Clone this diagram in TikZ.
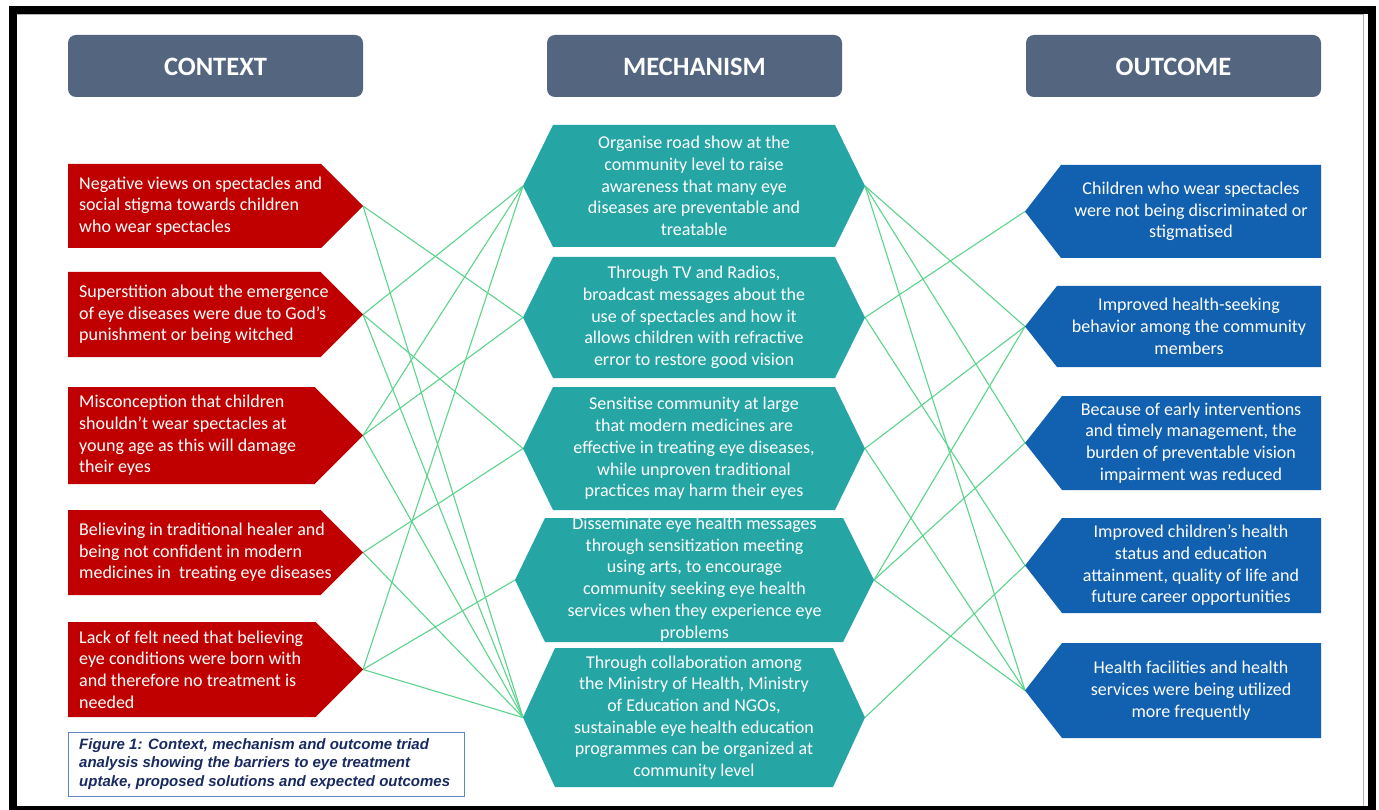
\documentclass[tikz,border=0pt]{standalone}
\usepackage{fontspec}
\setmainfont{Carlito}
\newfontfamily\capfont{Liberation Sans}

\definecolor{hdrgray}{RGB}{84,101,128}
\definecolor{ctxred}{RGB}{192,0,0}
\definecolor{mechteal}{RGB}{37,165,164}
\definecolor{outblue}{RGB}{18,96,176}
\definecolor{linkgreen}{RGB}{92,212,140}
\definecolor{capnavy}{RGB}{24,42,96}
\definecolor{capframe}{RGB}{96,134,200}

\tikzset{
  hdrbox/.style={fill=hdrgray, rounded corners=8pt},
  hdrtxt/.style={text=white, inner sep=0pt, font=\fontsize{26.5}{30}\selectfont\bfseries},
  boxtxt/.style={text=white, inner sep=0pt, font=\fontsize{18}{21.7}\selectfont},
  ctxtxt/.style={boxtxt, align=left, anchor=west},
  ctrtxt/.style={boxtxt, align=center},
  linkline/.style={draw=linkgreen, line width=1.1pt},
}

\begin{document}
\begin{tikzpicture}[x=1pt,y=-1pt]
\useasboundingbox (0,0) rectangle (1379,810);
\fill[white] (0,0) rectangle (1379,810);

% outer frame
\draw[black!30, line width=1pt] (17,15) -- (1363.5,15) -- (1363.5,806);
\draw[black, line width=8.5pt] (13,10) rectangle (1372,810);

% column headers
\fill[hdrbox] (68,35) rectangle (363,97);
\fill[hdrbox] (547,35) rectangle (842,97);
\fill[hdrbox] (1026,35) rectangle (1321,97);
\node[hdrtxt] (hctx) at (215.5,67) {CONTEXT};
\node[hdrtxt] (hmech) at (694.5,67) {MECHANISM};
\node[hdrtxt] (hout) at (1173.5,67) {OUTCOME};

% connection points
\coordinate (r1) at (363,206);
\coordinate (r2) at (363,314.5);
\coordinate (r3) at (363,435.5);
\coordinate (r4) at (363,552.5);
\coordinate (r5) at (363,669.5);
\coordinate (m1w) at (523,186);
\coordinate (m2w) at (523,317.5);
\coordinate (m3w) at (523,448.5);
\coordinate (m4w) at (515,580);
\coordinate (m5w) at (523,717.5);
\coordinate (m1e) at (865,186);
\coordinate (m2e) at (865,317.5);
\coordinate (m3e) at (865,448.5);
\coordinate (m4e) at (874,580);
\coordinate (m5e) at (865,717.5);
\coordinate (o1) at (1025,211.5);
\coordinate (o2) at (1025,326.5);
\coordinate (o3) at (1025,443);
\coordinate (o4) at (1025,565.5);
\coordinate (o5) at (1025,690.5);

% links context -> mechanism
\draw[linkline] (r1) -- (m2w);
\draw[linkline] (r1) -- (m5w);
\draw[linkline] (r2) -- (m1w);
\draw[linkline] (r2) -- (m3w);
\draw[linkline] (r2) -- (m5w);
\draw[linkline] (r3) -- (m1w);
\draw[linkline] (r3) -- (m2w);
\draw[linkline] (r3) -- (m5w);
\draw[linkline] (r4) -- (m3w);
\draw[linkline] (r4) -- (m5w);
\draw[linkline] (r5) -- (m1w);
\draw[linkline] (r5) -- (m4w);
\draw[linkline] (r5) -- (m5w);

% links mechanism -> outcome
\draw[linkline] (m1e) -- (o2);
\draw[linkline] (m1e) -- (o3);
\draw[linkline] (m1e) -- (o5);
\draw[linkline] (m2e) -- (o1);
\draw[linkline] (m2e) -- (o4);
\draw[linkline] (m3e) -- (o2);
\draw[linkline] (m3e) -- (o5);
\draw[linkline] (m4e) -- (o2);
\draw[linkline] (m4e) -- (o3);
\draw[linkline] (m4e) -- (o5);
\draw[linkline] (m5e) -- (o4);

% context arrows
\fill[ctxred] (68,164) -- (321,164) -- (r1) -- (321,248) -- (68,248) -- cycle;
\fill[ctxred] (68,272) -- (320.5,272) -- (r2) -- (320.5,357) -- (68,357) -- cycle;
\fill[ctxred] (68,387) -- (314.5,387) -- (r3) -- (314.5,484) -- (68,484) -- cycle;
\fill[ctxred] (68,510) -- (320.5,510) -- (r4) -- (320.5,595) -- (68,595) -- cycle;
\fill[ctxred] (68,622) -- (315.5,622) -- (r5) -- (315.5,717) -- (68,717) -- cycle;

\node[ctxtxt] (c1) at (79,206) {Negative views on spectacles and\\social stigma towards children\\who wear spectacles};
\node[ctxtxt] (c2) at (79,314.5) {Superstition about the emergence\\of eye diseases were due to God’s\\punishment or being witched};
\node[ctxtxt] (c3) at (79,435.5) {Misconception that children\\shouldn’t wear spectacles at\\young age as this will damage\\their eyes};
\node[ctxtxt] (c4) at (79,552.5) {Believing in traditional healer and\\being not confident in modern\\medicines in\ \ treating eye diseases};
\node[ctxtxt] (c5) at (79,669.5) {Lack of felt need that believing\\eye conditions were born with\\and therefore no treatment is\\needed};

% mechanism hexagons
\fill[mechteal] (m1w) -- (553,125) -- (835,125) -- (m1e) -- (835,247) -- (553,247) -- cycle;
\fill[mechteal] (m2w) -- (553,257) -- (835,257) -- (m2e) -- (835,378) -- (553,378) -- cycle;
\fill[mechteal] (m3w) -- (553,387) -- (835,387) -- (m3e) -- (835,510) -- (553,510) -- cycle;
\fill[mechteal] (m4w) -- (545,518) -- (843,518) -- (m4e) -- (843,642) -- (545,642) -- cycle;
\fill[mechteal] (m5w) -- (555,648) -- (833,648) -- (m5e) -- (833,787) -- (555,787) -- cycle;

\node[ctrtxt] (mt1) at (694,186) {Organise road show at the\\community level to raise\\awareness that many eye\\diseases are preventable and\\treatable};
\node[ctrtxt] (mt2) at (694,317.5) {Through TV and Radios,\\broadcast messages about the\\use of spectacles and how it\\allows children with refractive\\error to restore good vision};
\node[ctrtxt] (mt3) at (694,448.5) {Sensitise community at large\\that modern medicines are\\effective in treating eye diseases,\\while unproven traditional\\practices may harm their eyes};
\node[ctrtxt] (mt4) at (694.5,579) {Disseminate eye health messages\\through sensitization meeting\\using arts, to encourage\\community seeking eye health\\services when they experience eye\\problems};
\node[ctrtxt] (mt5) at (694,717.5) {Through collaboration among\\the Ministry of Health, Ministry\\of Education and NGOs,\\sustainable eye health education\\programmes can be organized at\\community level};

% outcome arrows
\fill[outblue] (o1) -- (1061,165) -- (1321,165) -- (1321,258) -- (1061,258) -- cycle;
\fill[outblue] (o2) -- (1057,286) -- (1321,286) -- (1321,367) -- (1057,367) -- cycle;
\fill[outblue] (o3) -- (1062,396) -- (1321,396) -- (1321,490) -- (1062,490) -- cycle;
\fill[outblue] (o4) -- (1062,518) -- (1321,518) -- (1321,613) -- (1062,613) -- cycle;
\fill[outblue] (o5) -- (1062,643) -- (1321,643) -- (1321,738) -- (1062,738) -- cycle;

\node[ctrtxt] (ot1) at (1191,211.5) {Children who wear spectacles\\were not being discriminated or\\stigmatised};
\node[ctrtxt] (ot2) at (1189,326.5) {Improved health-seeking\\behavior among the community\\members};
\node[ctrtxt] (ot3) at (1191,443) {Because of early interventions\\and timely management, the\\burden of preventable vision\\impairment was reduced};
\node[ctrtxt] (ot4) at (1191,565.5) {Improved children’s health\\status and education\\attainment, quality of life and\\future career opportunities};
\node[ctrtxt] (ot5) at (1191,690.5) {Health facilities and health\\services were being utilized\\more frequently};

% figure caption
\draw[capframe, line width=1pt] (68,732) rectangle (464,796);
\node[anchor=west, align=left, inner sep=0pt, text=capnavy,
      font=\capfont\bfseries\itshape\fontsize{15}{18.5}\selectfont] (cap) at (79,764)
  {Figure 1: Context, mechanism and outcome triad\\analysis showing the barriers to eye treatment\\uptake, proposed solutions and expected outcomes};
\end{tikzpicture}
\end{document}
